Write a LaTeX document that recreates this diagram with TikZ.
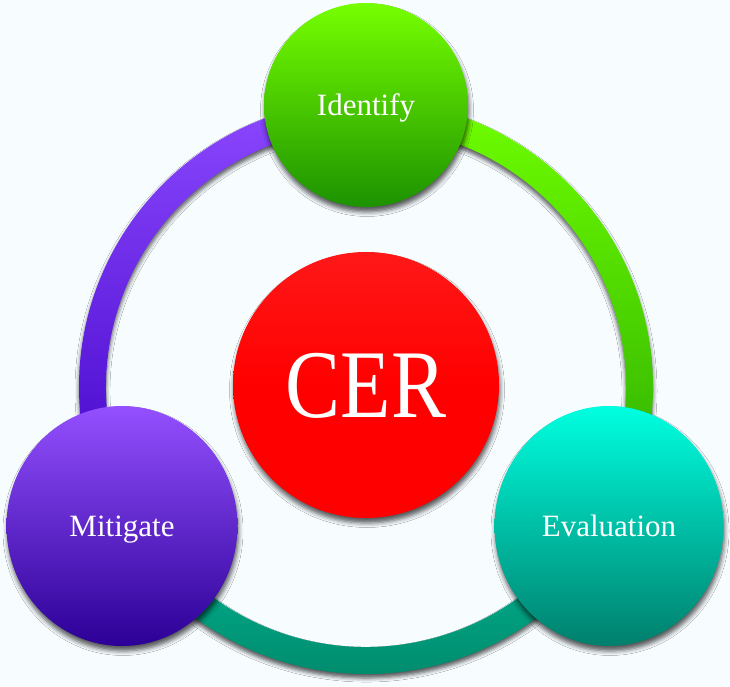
\documentclass[tikz,border=0pt]{standalone}
\usepackage{graphicx}
\usepackage{fontspec}
\setmainfont{Liberation Serif}
\usetikzlibrary{shapes.geometric,shadows.blur}
\definecolor{bg}{RGB}{247,252,255}
\definecolor{purpTop}{RGB}{140,72,255}
\definecolor{purpBot}{RGB}{62,0,196}
\definecolor{grnTop}{RGB}{112,255,0}
\definecolor{grnBot}{RGB}{40,168,0}
\definecolor{tealTop}{RGB}{0,187,153}
\definecolor{tealBot}{RGB}{0,128,98}
\definecolor{idTop}{RGB}{118,255,0}
\definecolor{idBot}{RGB}{28,146,0}
\definecolor{miTop}{RGB}{148,80,255}
\definecolor{miMid}{RGB}{100,28,255}
\definecolor{miBot}{RGB}{44,0,150}
\definecolor{evTop}{RGB}{0,255,224}
\definecolor{evBot}{RGB}{0,127,108}
\definecolor{cerTop}{RGB}{255,24,24}
\definecolor{cerBot}{RGB}{255,0,0}
\begin{document}
\begin{tikzpicture}[x=1pt,y=1pt,
  ringseg/.style={blur shadow={shadow xshift=0pt,shadow yshift=-4pt,shadow blur radius=4pt,shadow opacity=65}},
  bubble/.style={inner sep=0pt, text=white, font=\fontsize{31}{36}\selectfont,
    text height=20.5pt, text depth=0pt,
    blur shadow={shadow xshift=1pt,shadow yshift=-5pt,shadow blur radius=4.5pt,shadow opacity=65}},
]
\useasboundingbox (0,0) rectangle (730,686);
\fill[bg] (0,0) rectangle (730,686);
\coordinate (rc) at (366,299);
% ring segments
\path[ringseg, top color=purpTop, bottom color=purpBot]
  ([shift={(rc)}]90:287pt) arc[start angle=90, end angle=210, radius=287pt]
  -- ([shift={(rc)}]210:260pt) arc[start angle=210, end angle=90, radius=260pt] -- cycle;
\path[ringseg, top color=grnTop, bottom color=grnBot]
  ([shift={(rc)}]90:287pt) arc[start angle=90, end angle=-30, radius=287pt]
  -- ([shift={(rc)}]-30:260pt) arc[start angle=-30, end angle=90, radius=260pt] -- cycle;
\path[ringseg, top color=tealTop, bottom color=tealBot]
  ([shift={(rc)}]210:287pt) arc[start angle=210, end angle=330, radius=287pt]
  -- ([shift={(rc)}]330:260pt) arc[start angle=330, end angle=210, radius=260pt] -- cycle;
% bubbles
\node[bubble, circle, minimum size=204pt, top color=idTop, bottom color=idBot] (identify) at (366,581) {Identify};
\node[bubble, ellipse, minimum width=231pt, minimum height=240pt, top color=miTop, middle color=miMid, bottom color=miBot] (mitigate) at (122,160) {Mitigate};
\node[bubble, ellipse, minimum width=229pt, minimum height=240pt, top color=evTop, bottom color=evBot] (evaluation) at (609,160) {Evaluation};
\node[bubble, circle, minimum size=266pt, shading=axis, top color=cerTop, bottom color=cerBot, middle color=cerBot, font=\fontsize{97}{100}\selectfont, text height=64pt] (cer) at (366,301) {\scalebox{0.85}[1]{CER}};
\end{tikzpicture}
\end{document}
